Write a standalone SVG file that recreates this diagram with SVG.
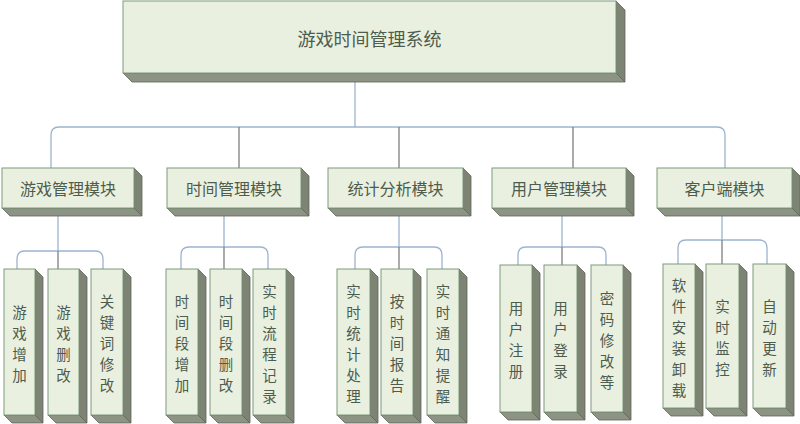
<svg xmlns="http://www.w3.org/2000/svg" width="800" height="424" viewBox="0 0 800 424">
<style>
.front{fill:#EAF0DF;stroke:#7C9A7A;stroke-width:1}
.rs{fill:#7E8474;stroke:#5F6658;stroke-width:0.8}
.bs{fill:#8E9484;stroke:#5F6658;stroke-width:0.8}
.t{font-family:"Noto Sans CJK SC","Noto Sans CJK JP",sans-serif;fill:#4E5C4E;text-anchor:middle;dominant-baseline:central}
.m{font-size:16px}
.l{font-size:14.5px}
.b{fill:none;stroke:#9DB3CF;stroke-width:1.3}
.g{fill:none;stroke:#7F7F7F;stroke-width:1.3}
</style>
<rect width="800" height="424" fill="#FFFFFF"/>
<g id="connectors">
<path class="b" d="M355,82 V127"/>
<path class="b" d="M51,168 V135 Q51,127 59,127 H717 Q725,127 725,135 V168"/>
<path class="g" d="M239,127 V168 M399,127 V168 M573,127 V168"/>
<path class="b" d="M58,216 V251 M17,269 V259 Q17,251 25,251 H95 Q103,251 103,259 V269"/>
<path class="g" d="M58,251 V269"/>
<path class="b" d="M224,216 V247 M181,269 V255 Q181,247 189,247 H260 Q268,247 268,255 V269"/>
<path class="g" d="M224,247 V269"/>
<path class="b" d="M399,216 V247 M355,269 V255 Q355,247 363,247 H434 Q442,247 442,255 V269"/>
<path class="g" d="M399,247 V269"/>
<path class="b" d="M562,216 V247 M518,265 V255 Q518,247 526,247 H598 Q606,247 606,255 V265"/>
<path class="g" d="M562,247 V265"/>
<path class="b" d="M722,216 V240 M678,264 V248 Q678,240 686,240 H759 Q767,240 767,248 V264"/>
<path class="g" d="M722,240 V264"/>
</g>
<g id="root">
<polygon class="bs" points="123,73 616,73 625,82 132,82"/>
<polygon class="rs" points="616,1 625,10 625,82 616,73"/>
<rect class="front" x="123" y="1" width="493" height="72"/>
<text class="t" x="369.5" y="38" font-size="18">游戏时间管理系统</text>
</g>
<g id="m1">
<polygon class="bs" points="2,208 134,208 142,216 10,216"/>
<polygon class="rs" points="134,168 142,176 142,216 134,208"/>
<rect class="front" x="2" y="168" width="132" height="40"/>
<text class="t m" x="68" y="188">游戏管理模块</text>
</g>
<g id="m2">
<polygon class="bs" points="167,208 301,208 309,216 175,216"/>
<polygon class="rs" points="301,168 309,176 309,216 301,208"/>
<rect class="front" x="167" y="168" width="134" height="40"/>
<text class="t m" x="234" y="188">时间管理模块</text>
</g>
<g id="m3">
<polygon class="bs" points="328,208 463,208 471,216 336,216"/>
<polygon class="rs" points="463,168 471,176 471,216 463,208"/>
<rect class="front" x="328" y="168" width="135" height="40"/>
<text class="t m" x="395.5" y="188">统计分析模块</text>
</g>
<g id="m4">
<polygon class="bs" points="492,208 626,208 634,216 500,216"/>
<polygon class="rs" points="626,168 634,176 634,216 626,208"/>
<rect class="front" x="492" y="168" width="134" height="40"/>
<text class="t m" x="559" y="188">用户管理模块</text>
</g>
<g id="m5">
<polygon class="bs" points="657,208 792,208 800,216 665,216"/>
<polygon class="rs" points="792,168 800,176 800,216 792,208"/>
<rect class="front" x="657" y="168" width="135" height="40"/>
<text class="t m" x="724.5" y="188">客户端模块</text>
</g>
<g id="l1a">
<polygon class="bs" points="4,415 35,415 43,423 12,423"/>
<polygon class="rs" points="35,269 43,277 43,423 35,415"/>
<rect class="front" x="4" y="269" width="31" height="146"/>
<text class="t l"><tspan x="19.5" y="310.5">游</tspan><tspan x="19.5" y="331.5">戏</tspan><tspan x="19.5" y="352.5">增</tspan><tspan x="19.5" y="373.5">加</tspan></text>
</g>
<g id="l1b">
<polygon class="bs" points="48,415 79,415 87,423 56,423"/>
<polygon class="rs" points="79,269 87,277 87,423 79,415"/>
<rect class="front" x="48" y="269" width="31" height="146"/>
<text class="t l"><tspan x="63.5" y="310.5">游</tspan><tspan x="63.5" y="331.5">戏</tspan><tspan x="63.5" y="352.5">删</tspan><tspan x="63.5" y="373.5">改</tspan></text>
</g>
<g id="l1c">
<polygon class="bs" points="91,415 123,415 131,423 99,423"/>
<polygon class="rs" points="123,269 131,277 131,423 123,415"/>
<rect class="front" x="91" y="269" width="32" height="146"/>
<text class="t l"><tspan x="107" y="300">关</tspan><tspan x="107" y="321">键</tspan><tspan x="107" y="342">词</tspan><tspan x="107" y="363">修</tspan><tspan x="107" y="384">改</tspan></text>
</g>
<g id="l2a">
<polygon class="bs" points="166,415 198,415 206,423 174,423"/>
<polygon class="rs" points="198,269 206,277 206,423 198,415"/>
<rect class="front" x="166" y="269" width="32" height="146"/>
<text class="t l"><tspan x="182" y="300">时</tspan><tspan x="182" y="321">间</tspan><tspan x="182" y="342">段</tspan><tspan x="182" y="363">增</tspan><tspan x="182" y="384">加</tspan></text>
</g>
<g id="l2b">
<polygon class="bs" points="210,415 242,415 250,423 218,423"/>
<polygon class="rs" points="242,269 250,277 250,423 242,415"/>
<rect class="front" x="210" y="269" width="32" height="146"/>
<text class="t l"><tspan x="226" y="300">时</tspan><tspan x="226" y="321">间</tspan><tspan x="226" y="342">段</tspan><tspan x="226" y="363">删</tspan><tspan x="226" y="384">改</tspan></text>
</g>
<g id="l2c">
<polygon class="bs" points="253,415 286,415 294,423 261,423"/>
<polygon class="rs" points="286,269 294,277 294,423 286,415"/>
<rect class="front" x="253" y="269" width="33" height="146"/>
<text class="t l"><tspan x="269.5" y="289.5">实</tspan><tspan x="269.5" y="310.5">时</tspan><tspan x="269.5" y="331.5">流</tspan><tspan x="269.5" y="352.5">程</tspan><tspan x="269.5" y="373.5">记</tspan><tspan x="269.5" y="394.5">录</tspan></text>
</g>
<g id="l3a">
<polygon class="bs" points="337,415 370,415 378,423 345,423"/>
<polygon class="rs" points="370,269 378,277 378,423 370,415"/>
<rect class="front" x="337" y="269" width="33" height="146"/>
<text class="t l"><tspan x="353.5" y="289.5">实</tspan><tspan x="353.5" y="310.5">时</tspan><tspan x="353.5" y="331.5">统</tspan><tspan x="353.5" y="352.5">计</tspan><tspan x="353.5" y="373.5">处</tspan><tspan x="353.5" y="394.5">理</tspan></text>
</g>
<g id="l3b">
<polygon class="bs" points="381,415 413,415 421,423 389,423"/>
<polygon class="rs" points="413,269 421,277 421,423 413,415"/>
<rect class="front" x="381" y="269" width="32" height="146"/>
<text class="t l"><tspan x="397" y="300">按</tspan><tspan x="397" y="321">时</tspan><tspan x="397" y="342">间</tspan><tspan x="397" y="363">报</tspan><tspan x="397" y="384">告</tspan></text>
</g>
<g id="l3c">
<polygon class="bs" points="427,415 459,415 467,423 435,423"/>
<polygon class="rs" points="459,269 467,277 467,423 459,415"/>
<rect class="front" x="427" y="269" width="32" height="146"/>
<text class="t l"><tspan x="443" y="289.5">实</tspan><tspan x="443" y="310.5">时</tspan><tspan x="443" y="331.5">通</tspan><tspan x="443" y="352.5">知</tspan><tspan x="443" y="373.5">提</tspan><tspan x="443" y="394.5">醒</tspan></text>
</g>
<g id="l4a">
<polygon class="bs" points="500,412 532,412 540,420 508,420"/>
<polygon class="rs" points="532,265 540,273 540,420 532,412"/>
<rect class="front" x="500" y="265" width="32" height="147"/>
<text class="t l"><tspan x="516" y="307">用</tspan><tspan x="516" y="328">户</tspan><tspan x="516" y="349">注</tspan><tspan x="516" y="370">册</tspan></text>
</g>
<g id="l4b">
<polygon class="bs" points="544,412 577,412 585,420 552,420"/>
<polygon class="rs" points="577,265 585,273 585,420 577,412"/>
<rect class="front" x="544" y="265" width="33" height="147"/>
<text class="t l"><tspan x="560.5" y="307">用</tspan><tspan x="560.5" y="328">户</tspan><tspan x="560.5" y="349">登</tspan><tspan x="560.5" y="370">录</tspan></text>
</g>
<g id="l4c">
<polygon class="bs" points="591,412 623,412 631,420 599,420"/>
<polygon class="rs" points="623,265 631,273 631,420 623,412"/>
<rect class="front" x="591" y="265" width="32" height="147"/>
<text class="t l"><tspan x="607" y="296.5">密</tspan><tspan x="607" y="317.5">码</tspan><tspan x="607" y="338.5">修</tspan><tspan x="607" y="359.5">改</tspan><tspan x="607" y="380.5">等</tspan></text>
</g>
<g id="l5a">
<polygon class="bs" points="663,408 695,408 703,416 671,416"/>
<polygon class="rs" points="695,264 703,272 703,416 695,408"/>
<rect class="front" x="663" y="264" width="32" height="144"/>
<text class="t l"><tspan x="679" y="283.5">软</tspan><tspan x="679" y="304.5">件</tspan><tspan x="679" y="325.5">安</tspan><tspan x="679" y="346.5">装</tspan><tspan x="679" y="367.5">卸</tspan><tspan x="679" y="388.5">载</tspan></text>
</g>
<g id="l5b">
<polygon class="bs" points="706,408 739,408 747,416 714,416"/>
<polygon class="rs" points="739,264 747,272 747,416 739,408"/>
<rect class="front" x="706" y="264" width="33" height="144"/>
<text class="t l"><tspan x="722.5" y="304.5">实</tspan><tspan x="722.5" y="325.5">时</tspan><tspan x="722.5" y="346.5">监</tspan><tspan x="722.5" y="367.5">控</tspan></text>
</g>
<g id="l5c">
<polygon class="bs" points="753,408 786,408 794,416 761,416"/>
<polygon class="rs" points="786,264 794,272 794,416 786,408"/>
<rect class="front" x="753" y="264" width="33" height="144"/>
<text class="t l"><tspan x="769.5" y="304.5">自</tspan><tspan x="769.5" y="325.5">动</tspan><tspan x="769.5" y="346.5">更</tspan><tspan x="769.5" y="367.5">新</tspan></text>
</g>
</svg>
